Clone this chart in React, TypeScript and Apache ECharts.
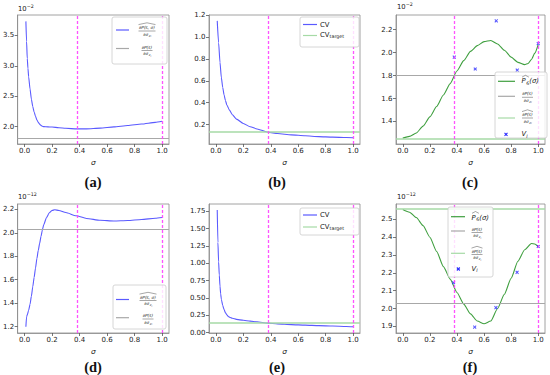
import React, { useEffect, useRef } from "react";
import * as echarts from "echarts";

// ---------------- data ----------------
const sigmaTicks = [0, 0.2, 0.4, 0.6, 0.8, 1.0];
const sigmaOptTop = 0.38;
const sigmaOptBottom = 0.375;
const sigmaEnd = 1.0;

// (a) gradient estimate vs sigma (x 1e-2)
const sigmaA = [0.01, 0.015, 0.02, 0.025, 0.03, 0.04, 0.05, 0.06, 0.07, 0.08, 0.09, 0.10, 0.11, 0.12, 0.13, 0.14, 0.17, 0.20, 0.25, 0.30, 0.38, 0.45, 0.55, 0.65, 0.75, 0.85, 0.95, 1.0];
const gradHatA = [3.73, 3.40, 3.12, 2.96, 2.82, 2.62, 2.45, 2.33, 2.24, 2.17, 2.11, 2.07, 2.04, 2.02, 2.005, 1.999, 1.996, 1.993, 1.982, 1.972, 1.962, 1.963, 1.975, 1.995, 2.018, 2.042, 2.07, 2.088];
const gradRefA = 1.81;
const yTicksA = [2.0, 2.5, 3.0, 3.5];

// (b) CV
const sigmaB = [0.01, 0.02, 0.03, 0.04, 0.05, 0.06, 0.07, 0.08, 0.10, 0.12, 0.15, 0.20, 0.25, 0.30, 0.38, 0.45, 0.55, 0.65, 0.75, 0.85, 0.95, 1.0];
const cvB = [1.15, 0.95, 0.77, 0.63, 0.54, 0.47, 0.42, 0.38, 0.33, 0.29, 0.25, 0.21, 0.18, 0.16, 0.13, 0.118, 0.106, 0.097, 0.09, 0.085, 0.081, 0.079];
const cvTargetB = 0.13;
const yTicksB = [0.2, 0.4, 0.6, 0.8, 1.0, 1.2];

// (c) polynomial P6 (x 1e-2)
const sigmaC = [0.0, 0.05, 0.10, 0.15, 0.20, 0.25, 0.30, 0.35, 0.40, 0.45, 0.50, 0.55, 0.60, 0.65, 0.70, 0.75, 0.80, 0.85, 0.90, 0.925, 0.95, 0.975, 1.0];
const p6C = [1.255, 1.27, 1.30, 1.36, 1.44, 1.53, 1.63, 1.73, 1.84, 1.93, 2.01, 2.06, 2.095, 2.105, 2.075, 2.02, 1.96, 1.915, 1.895, 1.905, 1.94, 1.995, 2.07];
const vSigmaC = [0.38, 0.535, 0.69, 0.845, 1.0];
const vC = [1.96, 1.857, 2.276, 1.847, 2.078];
const gradRefC = 1.80;
const gradHatRefC = 1.255;
const yTicksC = [1.4, 1.6, 1.8, 2.0, 2.2];

// (d) gradient estimate (x 1e-12)
const sigmaD = [0.01, 0.015, 0.02, 0.03, 0.04, 0.05, 0.06, 0.07, 0.08, 0.09, 0.10, 0.11, 0.12, 0.13, 0.14, 0.16, 0.18, 0.20, 0.22, 0.25, 0.30, 0.375, 0.45, 0.55, 0.65, 0.75, 0.85, 0.95, 1.0];
const gradHatD = [1.20, 1.285, 1.30, 1.34, 1.39, 1.46, 1.54, 1.62, 1.70, 1.78, 1.85, 1.91, 1.97, 2.025, 2.07, 2.13, 2.17, 2.19, 2.196, 2.19, 2.172, 2.145, 2.122, 2.106, 2.10, 2.104, 2.113, 2.124, 2.13];
const gradRefD = 2.03;
const yTicksD = [1.2, 1.4, 1.6, 1.8, 2.0, 2.2];

// (e) CV
const sigmaE = [0.01, 0.015, 0.02, 0.025, 0.03, 0.035, 0.04, 0.05, 0.06, 0.07, 0.08, 0.09, 0.10, 0.12, 0.15, 0.20, 0.25, 0.30, 0.375, 0.45, 0.55, 0.65, 0.75, 0.85, 0.95, 1.0];
const cvE = [1.77, 1.30, 1.02, 0.83, 0.67, 0.56, 0.48, 0.39, 0.33, 0.285, 0.255, 0.235, 0.22, 0.205, 0.19, 0.176, 0.165, 0.155, 0.135, 0.124, 0.114, 0.106, 0.099, 0.093, 0.087, 0.083];
const cvTargetE = 0.135;
const yTicksE = [0, 0.25, 0.5, 0.75, 1.0, 1.25, 1.5, 1.75];

// (f) polynomial P6 (x 1e-12)
const sigmaF = [0.0, 0.05, 0.10, 0.15, 0.20, 0.25, 0.30, 0.35, 0.40, 0.45, 0.50, 0.55, 0.60, 0.65, 0.70, 0.75, 0.80, 0.85, 0.90, 0.95, 0.975, 1.0];
const p6F = [2.555, 2.54, 2.51, 2.465, 2.40, 2.32, 2.235, 2.165, 2.09, 2.025, 1.97, 1.93, 1.915, 1.93, 2.00, 2.08, 2.17, 2.265, 2.33, 2.365, 2.362, 2.347];
const vSigmaF = [0.375, 0.531, 0.6875, 0.844, 1.0];
const vF = [2.145, 1.896, 2.005, 2.203, 2.348];
const gradRefF = 2.033;
const gradHatRefF = 2.555;
const yTicksF = [1.9, 2.0, 2.1, 2.2, 2.3, 2.4, 2.5];

// ---------------- styles ----------------
const FONT = "DejaVu Sans";
const TXT = "#222";
const BLUE = "#5a5aff";
const GREEN = "#3f9f3f";
const LGREEN = "#a6daa6";
const GRAY = "#a8a8a8";
const MAGENTA = "#ff40ff";
const MARK = "#2a2aff";
const FRAME = "#8a8a8a";
const XPATH = "path://M0,2L2,0L5,3L8,0L10,2L7,5L10,8L8,10L5,7L2,10L0,8L3,5Z";
const TICK_FS = 7;

const zip = (xs: number[], ys: number[]) => xs.map((x, i) => [x, ys[i]]);

const magentaLine = { color: MAGENTA, width: 1.3, type: [3, 2], opacity: 0.9 };
const grayLine = { color: GRAY, width: 1.2, type: "solid" };
const lgreenLine = { color: LGREEN, width: 1.5, type: "solid" };

function xAxisCfg(i: number) {
  return {
    type: "value",
    gridIndex: i,
    min: -0.05,
    max: 1.05,
    axisLine: { show: true, onZero: false, lineStyle: { color: FRAME, width: 0.8 } },
    axisTick: { show: true, inside: false, length: 3, customValues: sigmaTicks, lineStyle: { color: "#555", width: 0.8 } },
    axisLabel: { customValues: sigmaTicks, formatter: (v: number) => v.toFixed(1), fontSize: TICK_FS, fontFamily: FONT, color: TXT, margin: 3.5 },
    splitLine: { show: false },
    name: "σ",
    nameLocation: "middle",
    nameGap: 14,
    nameTextStyle: { fontFamily: FONT, fontStyle: "italic", fontSize: 7.5, color: TXT },
  };
}

function yAxisCfg(i: number, min: number, max: number, ticks: number[], dec: number) {
  return {
    type: "value",
    gridIndex: i,
    min,
    max,
    axisLine: { show: true, onZero: false, lineStyle: { color: FRAME, width: 0.8 } },
    axisTick: { show: true, inside: false, length: 3, customValues: ticks, lineStyle: { color: "#555", width: 0.8 } },
    axisLabel: { customValues: ticks, formatter: (v: number) => v.toFixed(dec), fontSize: TICK_FS, fontFamily: FONT, color: TXT, margin: 3.5 },
    splitLine: { show: false },
  };
}

function lineSeries(i: number, xs: number[], ys: number[], color: string, marks: any[]) {
  return {
    type: "line",
    xAxisIndex: i,
    yAxisIndex: i,
    data: zip(xs, ys),
    showSymbol: false,
    symbol: "none",
    smooth: 0.2,
    smoothMonotone: "x",
    lineStyle: { color, width: 1.1 },
    markLine: { silent: true, symbol: ["none", "none"], label: { show: false }, data: marks },
    z: 3,
  };
}

function scatterSeries(i: number, xs: number[], ys: number[]) {
  return {
    type: "scatter",
    xAxisIndex: i,
    yAxisIndex: i,
    data: zip(xs, ys),
    symbol: XPATH,
    symbolSize: 3.6,
    itemStyle: { color: MARK },
    z: 4,
  };
}

// ---------------- graphic helpers ----------------
function t(x: number, y: number, text: string, size: number, extra: any = {}) {
  return {
    type: "text", x, y, z: 101, silent: true,
    style: { text, fontSize: size, fontFamily: FONT, fill: TXT, align: "left", verticalAlign: "middle", ...extra },
  };
}
function ln(x1: number, y1: number, x2: number, y2: number, stroke: string, lw: number) {
  return { type: "line", z: 101, silent: true, shape: { x1, y1, x2, y2 }, style: { stroke, lineWidth: lw } };
}
function box(x: number, y: number, w: number, h: number) {
  return {
    type: "rect", z: 100, silent: true,
    shape: { x, y, width: w, height: h, r: 2 },
    style: { fill: "rgba(255,255,255,0.82)", stroke: "#cccccc", lineWidth: 0.8 },
  };
}
function hat(x1: number, x2: number, y: number) {
  return {
    type: "polyline", z: 101, silent: true,
    shape: { points: [[x1, y], [(x1 + x2) / 2, y - 1.8], [x2, y]] },
    style: { stroke: TXT, lineWidth: 0.4, fill: "none" },
  };
}
function frac(cx: number, cy: number, num: string, withHat: boolean, w: number) {
  const els: any[] = [
    t(cx, cy - 3.4, num, 4.3, { align: "center", fontStyle: "italic" }),
    ln(cx - w / 2, cy, cx + w / 2, cy, TXT, 0.4),
    t(cx - 1.2, cy + 3.4, "∂σ", 4.3, { align: "center", fontStyle: "italic" }),
    t(cx + 1.8, cy + 4.6, "z", 3.0, { fontStyle: "italic" }),
    t(cx + 3.5, cy + 5.4, "l", 2.4, { fontStyle: "italic" }),
  ];
  if (withHat) els.push(hat(cx - w / 2, cx + w / 2, cy - 6.4));
  return els;
}
function p6(x: number, y: number) {
  return [
    t(x, y, "P", 6.8, { fontStyle: "italic" }),
    t(x + 4.8, y + 1.8, "6", 4.7),
    t(x + 7.8, y, "(σ)", 6.8, { fontStyle: "italic" }),
    hat(x + 0.5, x + 7.4, y - 4.2),
  ];
}
function vl(x: number, y: number) {
  return [t(x, y, "V", 6.8, { fontStyle: "italic" }), t(x + 4.8, y + 1.8, "l", 4.7, { fontStyle: "italic" })];
}
function xMark(cx: number, cy: number) {
  return [ln(cx - 1.5, cy - 1.5, cx + 1.5, cy + 1.5, MARK, 1.1), ln(cx - 1.5, cy + 1.5, cx + 1.5, cy - 1.5, MARK, 1.1)];
}
function cvTarget(x: number, y: number) {
  return [t(x, y, "CV", 6.8), t(x + 9.6, y + 1.8, "target", 4.8)];
}
function offsetText(x: number, y: number, exp: string) {
  return [t(x, y, "10", 6.8), t(x + 8.8, y - 2.4, exp, 4.8)];
}
function panelLabel(cx: number, cy: number, s: string) {
  return t(cx, cy, s, 14.5, { align: "center", fontFamily: "Liberation Serif", fontWeight: "bold", fill: "#111" });
}

const graphics: any[] = [
  // offset texts
  ...offsetText(18, 9, "−2"),
  ...offsetText(397, 7, "−2"),
  ...offsetText(18, 196.5, "−12"),
  ...offsetText(397, 196.5, "−12"),
  // panel labels
  panelLabel(93, 182, "(a)"),
  panelLabel(277, 182, "(b)"),
  panelLabel(470, 182, "(c)"),
  panelLabel(93, 367, "(d)"),
  panelLabel(277, 367, "(e)"),
  panelLabel(470, 367, "(f)"),
  // legend (a)
  box(112, 17, 55, 47),
  ln(116, 30, 129, 30, BLUE, 1.2),
  ...frac(147, 31, "∂P(s, σ)", true, 17),
  ln(116, 48.5, 129, 48.5, GRAY, 1.2),
  ...frac(147, 50.5, "∂P(s)", false, 11),
  // legend (b)
  box(300, 17, 59, 30),
  ln(303, 24.5, 317, 24.5, BLUE, 1.2),
  t(320, 24.5, "CV", 6.8),
  ln(303, 35.5, 317, 35.5, LGREEN, 1.2),
  ...cvTarget(320, 35),
  // legend (c)
  box(495, 72, 52, 66),
  ln(498, 81.3, 515, 81.3, GREEN, 1.2),
  ...p6(521.5, 81.3),
  ln(498, 96.3, 515, 96.3, GRAY, 1.2),
  ...frac(527.5, 97.3, "∂P(s)", false, 11),
  ln(498, 118, 515, 118, LGREEN, 1.2),
  ...frac(527.5, 118, "∂P(s)", true, 11),
  ...xMark(506, 134.3),
  ...vl(521.5, 134.3),
  // legend (d)
  box(113, 285, 53, 44),
  ln(116, 299.5, 129, 299.5, BLUE, 1.2),
  ...frac(148, 300.5, "∂P(s, σ)", true, 17),
  ln(116, 317.7, 129, 317.7, GRAY, 1.2),
  ...frac(148, 319, "∂P(s)", false, 11),
  // legend (e)
  box(300, 208, 59, 27),
  ln(303, 215, 317, 215, BLUE, 1.2),
  t(320, 215, "CV", 6.8),
  ln(303, 227, 317, 227, LGREEN, 1.2),
  ...cvTarget(320, 226.5),
  // legend (f)
  box(448, 207, 45, 70),
  ln(451, 216.7, 465, 216.7, GREEN, 1.2),
  ...p6(471.5, 217.5),
  ln(451, 231, 465, 231, GRAY, 1.2),
  ...frac(477, 232.5, "∂P(s)", false, 11),
  ln(451, 253.3, 465, 253.3, LGREEN, 1.2),
  ...frac(477, 254.5, "∂P(s)", true, 11),
  ...xMark(458.3, 269),
  ...vl(471.5, 269),
];

const grids = [
  { left: 17, top: 15, width: 152, height: 129 },
  { left: 209, top: 15, width: 151, height: 129 },
  { left: 396, top: 15, width: 149, height: 129 },
  { left: 17, top: 204, width: 152, height: 129 },
  { left: 209, top: 204, width: 151, height: 129 },
  { left: 396, top: 204, width: 149, height: 129 },
].map((g) => ({ ...g, show: true, borderColor: FRAME, borderWidth: 0.8, backgroundColor: "transparent", containLabel: false }));

const option: any = {
  animation: false,
  backgroundColor: "#ffffff",
  grid: grids,
  xAxis: [0, 1, 2, 3, 4, 5].map(xAxisCfg),
  yAxis: [
    yAxisCfg(0, 1.714, 3.835, yTicksA, 1),
    yAxisCfg(1, 0.022, 1.204, yTicksB, 1),
    yAxisCfg(2, 1.204, 2.327, yTicksC, 1),
    yAxisCfg(3, 1.146, 2.245, yTicksD, 1),
    yAxisCfg(4, -0.007, 1.855, yTicksE, 2),
    yAxisCfg(5, 1.863, 2.586, yTicksF, 1),
  ],
  series: [
    lineSeries(0, sigmaA, gradHatA, BLUE, [
      { yAxis: gradRefA, lineStyle: grayLine },
      { xAxis: sigmaOptTop, lineStyle: magentaLine },
      { xAxis: sigmaEnd, lineStyle: magentaLine },
    ]),
    lineSeries(1, sigmaB, cvB, BLUE, [
      { yAxis: cvTargetB, lineStyle: lgreenLine },
      { xAxis: sigmaOptTop, lineStyle: magentaLine },
      { xAxis: sigmaEnd, lineStyle: magentaLine },
    ]),
    lineSeries(2, sigmaC, p6C, GREEN, [
      { yAxis: gradRefC, lineStyle: grayLine },
      { yAxis: gradHatRefC, lineStyle: lgreenLine },
      { xAxis: sigmaOptTop, lineStyle: magentaLine },
      { xAxis: sigmaEnd, lineStyle: magentaLine },
    ]),
    scatterSeries(2, vSigmaC, vC),
    lineSeries(3, sigmaD, gradHatD, BLUE, [
      { yAxis: gradRefD, lineStyle: grayLine },
      { xAxis: sigmaOptBottom, lineStyle: magentaLine },
      { xAxis: sigmaEnd, lineStyle: magentaLine },
    ]),
    lineSeries(4, sigmaE, cvE, BLUE, [
      { yAxis: cvTargetE, lineStyle: lgreenLine },
      { xAxis: sigmaOptBottom, lineStyle: magentaLine },
      { xAxis: sigmaEnd, lineStyle: magentaLine },
    ]),
    lineSeries(5, sigmaF, p6F, GREEN, [
      { yAxis: gradRefF, lineStyle: grayLine },
      { yAxis: gradHatRefF, lineStyle: lgreenLine },
      { xAxis: sigmaOptBottom, lineStyle: magentaLine },
      { xAxis: sigmaEnd, lineStyle: magentaLine },
    ]),
    scatterSeries(5, vSigmaF, vF),
  ],
  graphic: { elements: graphics },
};

export default function App() {
  const ref = useRef<HTMLDivElement>(null);
  useEffect(() => {
    const chart = echarts.init(ref.current as HTMLDivElement, null, { renderer: "svg" });
    chart.setOption(option);
    return () => chart.dispose();
  }, []);
  return (
    <div
      ref={ref}
      style={{ position: "fixed", left: 0, top: 0, width: 550, height: 375, background: "#fff" }}
    />
  );
}
